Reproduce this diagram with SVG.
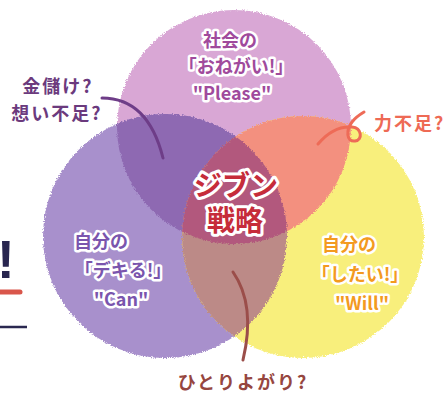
<svg xmlns="http://www.w3.org/2000/svg" width="446" height="394" viewBox="0 0 446 394">
<defs>
<style>
text{font-family:"Noto Sans CJK JP","Noto Sans",sans-serif;font-weight:bold}
.lbl{font-size:18px;paint-order:stroke;stroke:#ffffff;stroke-width:5;stroke-linejoin:round}
.ctr{font-size:28px;fill:#c62c3a;paint-order:stroke;stroke:#ffffff;stroke-width:6;stroke-linejoin:round}
.ann{font-size:18px;letter-spacing:2px}
.con{fill:none;stroke-linecap:round;stroke-width:3}
</style>
<clipPath id="cT"><circle cx="234" cy="127" r="117"/></clipPath>
<clipPath id="cL"><circle cx="165" cy="236" r="122"/></clipPath>
<filter id="chalk" x="-5%" y="-5%" width="110%" height="110%">
<feTurbulence type="fractalNoise" baseFrequency="0.9" numOctaves="2" seed="3" result="n"/>
<feDisplacementMap in="SourceGraphic" in2="n" scale="4" xChannelSelector="R" yChannelSelector="G"/>
</filter>
</defs>
<rect width="446" height="394" fill="#ffffff"/>
<g id="edge-fragment">
<text x="-3" y="278" font-size="53" fill="#28254f" style="font-family:'Liberation Sans',sans-serif">!</text>
<line x1="0" y1="292" x2="20" y2="292" stroke="#d9564b" stroke-width="5" stroke-linecap="round"/>
<line x1="0" y1="327" x2="27" y2="327" stroke="#2a2850" stroke-width="2.5"/>
</g>
<g id="venn-regions" filter="url(#chalk)">
<circle cx="234" cy="127" r="117" fill="#d9a7d5"/>
<circle cx="165" cy="236" r="122" fill="#a890cc"/>
<circle cx="303" cy="237" r="121" fill="#f8ef7c"/>
<circle cx="165" cy="236" r="122" fill="#8e69b2" clip-path="url(#cT)"/>
<circle cx="303" cy="237" r="121" fill="#f3907f" clip-path="url(#cT)"/>
<circle cx="303" cy="237" r="121" fill="#bc8a87" clip-path="url(#cL)"/>
<g clip-path="url(#cL)"><circle cx="303" cy="237" r="121" fill="#b2587d" clip-path="url(#cT)"/></g>
</g>
<g id="connectors">
<path class="con" d="M102,98 Q148,98 163,158" stroke="#6e3d88"/>
<path class="con" d="M233,272 Q256,305 243,360" stroke="#9b4e4a"/>
<path class="con" d="M318,144 C328,132 340,126 352,127 C362,128 363,140 355,141 C346,142 346,130 352,122 C355,118 359,115 364,112" stroke="#ee6b57" stroke-width="2.5"/>
</g>
<g id="node-please">
<text class="lbl" fill="#a04a9c" text-anchor="middle" x="230" y="47">社会の</text>
<text class="lbl" fill="#a04a9c" text-anchor="middle" x="236" y="73">「おねがい!」</text>
<text class="lbl" fill="#a04a9c" text-anchor="middle" x="232" y="100">"Please"</text>
</g>
<g id="node-can">
<text class="lbl" fill="#7a55ad" text-anchor="middle" x="101" y="248">自分の</text>
<text class="lbl" fill="#7a55ad" text-anchor="middle" x="123" y="277">「デキる!」</text>
<text class="lbl" fill="#7a55ad" text-anchor="middle" x="121" y="306">"Can"</text>
</g>
<g id="node-will">
<text class="lbl" fill="#f39a20" text-anchor="middle" x="349" y="251">自分の</text>
<text class="lbl" fill="#f39a20" text-anchor="middle" x="360" y="281">「したい!」</text>
<text class="lbl" fill="#f39a20" text-anchor="middle" x="362" y="310">"Will"</text>
</g>
<g id="node-center">
<text class="ctr" text-anchor="middle" x="236" y="196">ジブン</text>
<text class="ctr" text-anchor="middle" x="235" y="231">戦略</text>
</g>
<g id="annotations">
<text class="ann" fill="#6b3a7d" text-anchor="middle" x="58" y="93">金儲け?</text>
<text class="ann" fill="#6b3a7d" text-anchor="middle" x="57" y="120">想い不足?</text>
<text class="ann" fill="#ee6a55" x="374" y="130">力不足?</text>
<text class="ann" fill="#96463f" text-anchor="middle" x="243" y="389">ひとりよがり?</text>
</g>
</svg>
